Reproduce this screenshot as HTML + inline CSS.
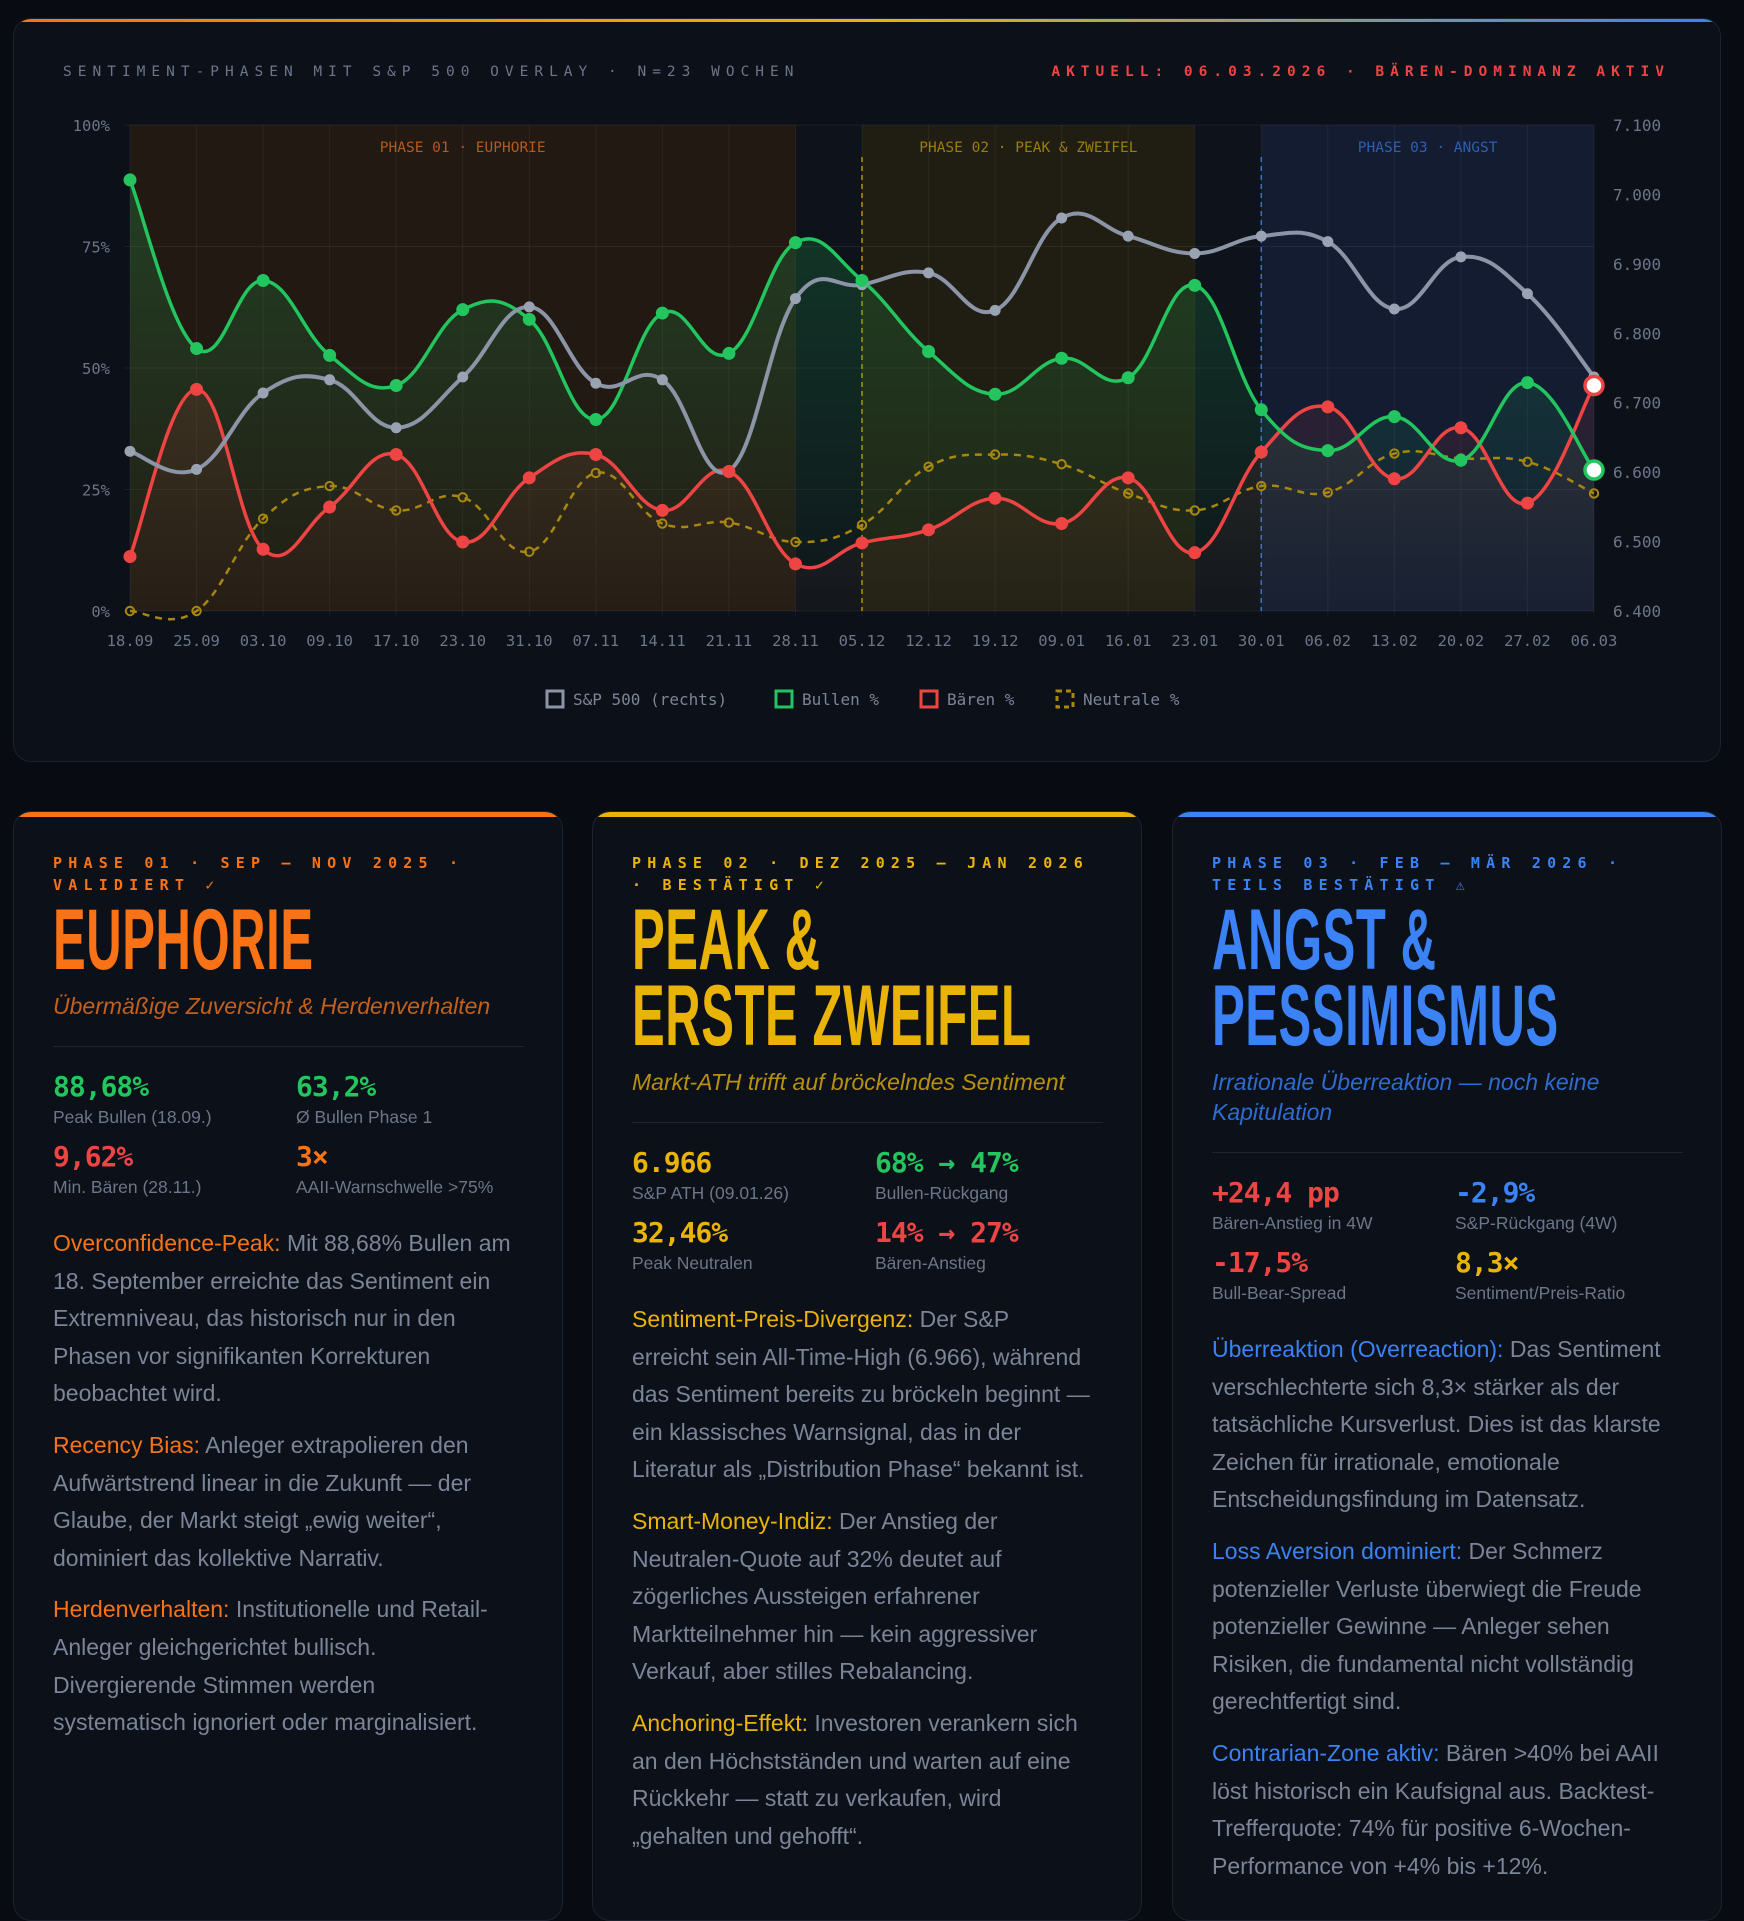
<!DOCTYPE html>
<html><head><meta charset="utf-8">
<style>
*{box-sizing:border-box;margin:0;padding:0}
html,body{width:1744px;height:1902px;overflow:hidden;background:#080b11;font-family:"Liberation Sans",sans-serif}
.mono{font-family:"DejaVu Sans Mono","Liberation Mono",monospace}
.chartcard{position:absolute;left:13px;top:18px;width:1708px;height:744px;border-radius:18px;background:#0c1018;border:1px solid #1b2230;overflow:hidden}
.chartcard:before{content:"";position:absolute;left:0;top:0;right:0;height:3px;background:linear-gradient(90deg,#f97316,#eab308 50%,#3b82f6)}
.card{position:absolute;top:811px;width:550px;height:1110px;border-radius:18px;background:#0c1018;border:1px solid #1b2230;overflow:hidden;padding:40px 38px 0 39px}
.card:before{content:"";position:absolute;left:0;top:0;right:0;height:5px}
.c1{left:13px}.c1:before{background:#f97316}
.c2{left:592px}.c2:before{background:#eab308}
.c3{left:1172px}.c3:before{background:#3b82f6}
.meta{font-family:"DejaVu Sans Mono",monospace;font-size:15px;letter-spacing:6.2px;line-height:22px;font-weight:bold;white-space:nowrap}
.title{margin-top:6px;font-family:"Liberation Sans Narrow","Liberation Sans",sans-serif;font-weight:bold;font-size:86px;line-height:76px;white-space:nowrap;transform:scaleX(0.57);transform-origin:left;letter-spacing:1px}
.sub{margin-top:13px;font-style:italic;font-size:23px;line-height:30px;white-space:nowrap}
.div{margin-top:25px;height:1px;background:#1e2633}
.stats{margin-top:24px;display:grid;grid-template-columns:243px 230px}
.v{font-family:"DejaVu Sans Mono",monospace;font-weight:bold;font-size:28px;line-height:32px;letter-spacing:-1px}
.l{font-size:17.5px;line-height:22px;color:#6b7689;margin-top:3px;margin-bottom:13px;white-space:nowrap}
.p{font-size:23px;line-height:37.6px;color:#7b8598;margin-top:14px;white-space:nowrap}
.p b{font-weight:normal}
.o{color:#f97316}.y{color:#eab308}.bl{color:#3b82f6}.g{color:#22c55e}.r{color:#ef4444}
</style></head><body>
<div class="chartcard"></div>
<svg id="ch" width="1744" height="770" style="position:absolute;left:0;top:0" xmlns="http://www.w3.org/2000/svg"></svg>

<div class="card c1">
<div class="meta o">PHASE 01 · SEP – NOV 2025 ·<br>VALIDIERT ✓</div>
<div class="title o">EUPHORIE</div>
<div class="sub o" style="color:#c2601c">Übermäßige Zuversicht &amp; Herdenverhalten</div>
<div class="div"></div>
<div class="stats">
<div><div class="v g">88,68%</div><div class="l">Peak Bullen (18.09.)</div></div>
<div><div class="v g">63,2%</div><div class="l">Ø Bullen Phase 1</div></div>
<div><div class="v r">9,62%</div><div class="l">Min. Bären (28.11.)</div></div>
<div><div class="v o">3×</div><div class="l">AAII-Warnschwelle &gt;75%</div></div>
</div>
<div class="p"><b class="o">Overconfidence-Peak:</b> Mit 88,68% Bullen am<br>18. September erreichte das Sentiment ein<br>Extremniveau, das historisch nur in den<br>Phasen vor signifikanten Korrekturen<br>beobachtet wird.</div>
<div class="p"><b class="o">Recency Bias:</b> Anleger extrapolieren den<br>Aufwärtstrend linear in die Zukunft — der<br>Glaube, der Markt steigt „ewig weiter“,<br>dominiert das kollektive Narrativ.</div>
<div class="p"><b class="o">Herdenverhalten:</b> Institutionelle und Retail-<br>Anleger gleichgerichtet bullisch.<br>Divergierende Stimmen werden<br>systematisch ignoriert oder marginalisiert.</div>
</div>

<div class="card c2">
<div class="meta y">PHASE 02 · DEZ 2025 – JAN 2026<br>· BESTÄTIGT ✓</div>
<div class="title y">PEAK &amp;<br>ERSTE ZWEIFEL</div>
<div class="sub" style="color:#b8900f">Markt-ATH trifft auf bröckelndes Sentiment</div>
<div class="div"></div>
<div class="stats">
<div><div class="v y">6.966</div><div class="l">S&amp;P ATH (09.01.26)</div></div>
<div><div class="v g">68% → 47%</div><div class="l">Bullen-Rückgang</div></div>
<div><div class="v y">32,46%</div><div class="l">Peak Neutralen</div></div>
<div><div class="v r">14% → 27%</div><div class="l">Bären-Anstieg</div></div>
</div>
<div class="p"><b class="y">Sentiment-Preis-Divergenz:</b> Der S&amp;P<br>erreicht sein All-Time-High (6.966), während<br>das Sentiment bereits zu bröckeln beginnt —<br>ein klassisches Warnsignal, das in der<br>Literatur als „Distribution Phase“ bekannt ist.</div>
<div class="p"><b class="y">Smart-Money-Indiz:</b> Der Anstieg der<br>Neutralen-Quote auf 32% deutet auf<br>zögerliches Aussteigen erfahrener<br>Marktteilnehmer hin — kein aggressiver<br>Verkauf, aber stilles Rebalancing.</div>
<div class="p"><b class="y">Anchoring-Effekt:</b> Investoren verankern sich<br>an den Höchstständen und warten auf eine<br>Rückkehr — statt zu verkaufen, wird<br>„gehalten und gehofft“.</div>
</div>

<div class="card c3">
<div class="meta bl">PHASE 03 · FEB – MÄR 2026 ·<br>TEILS BESTÄTIGT ⚠</div>
<div class="title bl">ANGST &amp;<br>PESSIMISMUS</div>
<div class="sub" style="color:#2f6bd0">Irrationale Überreaktion — noch keine<br>Kapitulation</div>
<div class="div"></div>
<div class="stats">
<div><div class="v r">+24,4 pp</div><div class="l">Bären-Anstieg in 4W</div></div>
<div><div class="v bl">-2,9%</div><div class="l">S&amp;P-Rückgang (4W)</div></div>
<div><div class="v r">-17,5%</div><div class="l">Bull-Bear-Spread</div></div>
<div><div class="v y">8,3×</div><div class="l">Sentiment/Preis-Ratio</div></div>
</div>
<div class="p"><b class="bl">Überreaktion (Overreaction):</b> Das Sentiment<br>verschlechterte sich 8,3× stärker als der<br>tatsächliche Kursverlust. Dies ist das klarste<br>Zeichen für irrationale, emotionale<br>Entscheidungsfindung im Datensatz.</div>
<div class="p"><b class="bl">Loss Aversion dominiert:</b> Der Schmerz<br>potenzieller Verluste überwiegt die Freude<br>potenzieller Gewinne — Anleger sehen<br>Risiken, die fundamental nicht vollständig<br>gerechtfertigt sind.</div>
<div class="p"><b class="bl">Contrarian-Zone aktiv:</b> Bären &gt;40% bei AAII<br>löst historisch ein Kaufsignal aus. Backtest-<br>Trefferquote: 74% für positive 6-Wochen-<br>Performance von +4% bis +12%.</div>
</div>

<script>
var L=130,R=1594,T=125,B=611,W=R-L,H=B-T,n=23,dx=W/22;
var bulls=[88.7,54,68,52.6,46.4,62,60,39.4,61.3,53,75.8,68,53.4,44.6,52,48,67,41.4,33,40,31,47,29];
var bears=[11.2,45.6,12.7,21.4,32.2,14.2,27.4,32.2,20.7,28.7,9.7,14,16.7,23.2,18,27.4,12,32.7,42,27.2,37.7,22.2,46.4];
var neut=[0,0,19,25.7,20.7,23.4,12.2,28.4,18,18.2,14.2,17.7,29.7,32.2,30.2,24.2,20.7,25.7,24.4,32.4,31.4,30.7,24.2];
var sp=[6630,6604,6714,6733,6664,6737,6838,6728,6733,6602,6850,6870,6887,6833,6966,6940,6915,6940,6932,6835,6910,6857,6737];
var dates=["18.09","25.09","03.10","09.10","17.10","23.10","31.10","07.11","14.11","21.11","28.11","05.12","12.12","19.12","09.01","16.01","23.01","30.01","06.02","13.02","20.02","27.02","06.03"];
function X(i){return L+i*dx}function Yp(p){return B-p/100*H}function Ys(v){return B-(v-6400)/700*H}
function pts(a,f){return a.map(function(v,i){return [X(i),f(v)]})}
function path(P){var d="M"+P[0][0]+","+P[0][1];for(var i=0;i<P.length-1;i++){var p0=P[Math.max(i-1,0)],p1=P[i],p2=P[i+1],p3=P[Math.min(i+2,P.length-1)];var t=0.2;d+=" C"+(p1[0]+(p2[0]-p0[0])*t)+","+(p1[1]+(p2[1]-p0[1])*t)+" "+(p2[0]-(p3[0]-p1[0])*t)+","+(p2[1]-(p3[1]-p1[1])*t)+" "+p2[0]+","+p2[1]}return d}
var s='<defs><linearGradient id="gg" x1="0" y1="0" x2="0" y2="1"><stop offset="0" stop-color="#22c55e" stop-opacity="0.22"/><stop offset="1" stop-color="#22c55e" stop-opacity="0.02"/></linearGradient><linearGradient id="rg" x1="0" y1="0" x2="0" y2="1"><stop offset="0" stop-color="#ef4444" stop-opacity="0.12"/><stop offset="1" stop-color="#ef4444" stop-opacity="0.02"/></linearGradient></defs>';
s+='<text x="63" y="76" class="mono" font-family="DejaVu Sans Mono" font-size="14.5" letter-spacing="6" fill="#6b7689">SENTIMENT-PHASEN MIT S&amp;P 500 OVERLAY · N=23 WOCHEN</text>';
s+='<text x="1670" y="76" text-anchor="end" font-family="DejaVu Sans Mono" font-size="14.5" font-weight="bold" letter-spacing="6" fill="#ef4444">AKTUELL: 06.03.2026 · BÄREN-DOMINANZ AKTIV</text>';
s+='<rect x="'+L+'" y="'+T+'" width="'+W+'" height="'+H+'" fill="#0e121a"/>';
s+='<rect x="'+X(0)+'" y="'+T+'" width="'+(X(10)-X(0))+'" height="'+H+'" fill="#2a1c12" opacity="0.75"/>';
s+='<rect x="'+X(11)+'" y="'+T+'" width="'+(X(16)-X(11))+'" height="'+H+'" fill="#272312" opacity="0.75"/>';
s+='<rect x="'+X(17)+'" y="'+T+'" width="'+(X(22)-X(17))+'" height="'+H+'" fill="#15203a" opacity="0.75"/>';
for(var i=0;i<n;i++)s+='<line x1="'+X(i)+'" y1="'+T+'" x2="'+X(i)+'" y2="'+(B+6)+'" stroke="#ffffff" stroke-opacity="0.05"/>';
for(var k=0;k<=4;k++){var y=Yp(k*25);s+='<line x1="'+(L-6)+'" y1="'+y+'" x2="'+R+'" y2="'+y+'" stroke="#ffffff" stroke-opacity="0.06"/>';s+='<text x="110" y="'+(y+6)+'" text-anchor="end" font-family="DejaVu Sans Mono" font-size="15.5" fill="#6b7689">'+(k*25)+'%</text>';}
for(var k=0;k<=7;k++){var v=6400+k*100;s+='<text x="1613" y="'+(Ys(v)+6)+'" font-family="DejaVu Sans Mono" font-size="16" fill="#6b7689">'+(v+"").replace(/^(\d)/,"$1.")+'</text>';}
dates.forEach(function(d,i){s+='<text x="'+X(i)+'" y="646" text-anchor="middle" font-family="DejaVu Sans Mono" font-size="15.5" fill="#6b7689">'+d+'</text>'});
s+='<text x="'+((X(0)+X(10))/2)+'" y="152" text-anchor="middle" font-family="DejaVu Sans Mono" font-size="14.5" fill="#b45a1c">PHASE 01 · EUPHORIE</text>';
s+='<text x="'+((X(11)+X(16))/2)+'" y="152" text-anchor="middle" font-family="DejaVu Sans Mono" font-size="14.5" fill="#9c7a14">PHASE 02 · PEAK &amp; ZWEIFEL</text>';
s+='<text x="'+((X(17)+X(22))/2)+'" y="152" text-anchor="middle" font-family="DejaVu Sans Mono" font-size="14.5" fill="#2f5fb0">PHASE 03 · ANGST</text>';
s+='<line x1="'+X(11)+'" y1="157" x2="'+X(11)+'" y2="'+B+'" stroke="#b8900f" stroke-dasharray="5,4" stroke-width="1.5"/>';
s+='<line x1="'+X(17)+'" y1="157" x2="'+X(17)+'" y2="'+B+'" stroke="#3b6fc0" stroke-dasharray="5,4" stroke-width="1.5"/>';
var Pb=pts(bulls,Yp),Pr=pts(bears,Yp),Pn=pts(neut,Yp),Ps=pts(sp,Ys);
s+='<path d="'+path(Pb)+' L'+R+','+B+' L'+L+','+B+'Z" fill="url(#gg)"/>';
s+='<path d="'+path(Pr)+' L'+R+','+B+' L'+L+','+B+'Z" fill="url(#rg)"/>';
s+='<path d="'+path(Pn)+'" fill="none" stroke="#a8870f" stroke-width="2.5" stroke-dasharray="7,6"/>';
Pn.forEach(function(p){s+='<circle cx="'+p[0]+'" cy="'+p[1]+'" r="4.2" fill="none" stroke="#a8870f" stroke-width="2"/>'});
s+='<path d="'+path(Pr)+'" fill="none" stroke="#ef4444" stroke-width="3.5"/>';
s+='<path d="'+path(Pb)+'" fill="none" stroke="#22c55e" stroke-width="3.5"/>';
s+='<path d="'+path(Ps)+'" fill="none" stroke="#8b95a7" stroke-width="4"/>';
Ps.forEach(function(p,i){if(i<22)s+='<circle cx="'+p[0]+'" cy="'+p[1]+'" r="5.5" fill="#9aa3b3"/>'});
Pr.forEach(function(p,i){if(i<22)s+='<circle cx="'+p[0]+'" cy="'+p[1]+'" r="6.5" fill="#ef4444"/>'});
Pb.forEach(function(p,i){if(i<22)s+='<circle cx="'+p[0]+'" cy="'+p[1]+'" r="6.5" fill="#22c55e"/>'});
s+='<circle cx="'+Ps[22][0]+'" cy="'+Ps[22][1]+'" r="5.5" fill="#9aa3b3"/>';
s+='<circle cx="'+Pr[22][0]+'" cy="'+Pr[22][1]+'" r="9" fill="#fff" stroke="#ef4444" stroke-width="3.5"/>';
s+='<circle cx="'+Pb[22][0]+'" cy="'+Pb[22][1]+'" r="9" fill="#fff" stroke="#22c55e" stroke-width="3.5"/>';
var lg=[[545,"#8b95a7","S&amp;P 500 (rechts)",0],[774,"#22c55e","Bullen %",0],[919,"#ef4444","Bären %",0],[1055,"#a8870f","Neutrale %",1]];
lg.forEach(function(e){s+='<rect x="'+(e[0]+2)+'" y="691" width="16" height="16" fill="none" stroke="'+e[1]+'" stroke-width="3"'+(e[3]?' stroke-dasharray="5,4"':'')+'/>';s+='<text x="'+(e[0]+28)+'" y="705" font-family="DejaVu Sans Mono" font-size="16" fill="#7b8598">'+e[2]+'</text>'});
document.getElementById("ch").innerHTML=s;
</script>
</body></html>
